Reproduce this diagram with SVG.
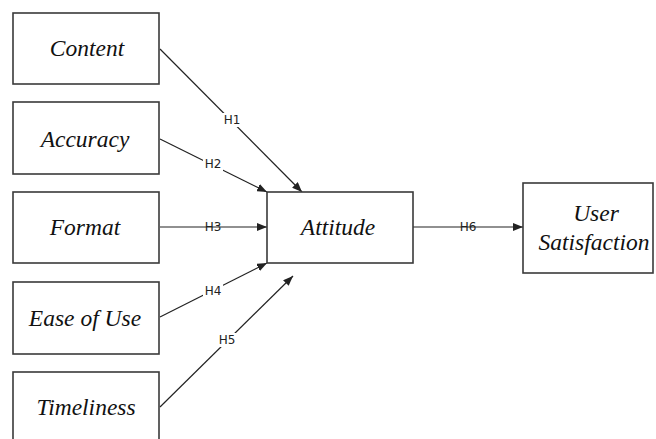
<svg xmlns="http://www.w3.org/2000/svg" width="656" height="439" viewBox="0 0 656 439">
<style>
.box{fill:#fff;stroke:#3a3a3a;stroke-width:1.6}
.t{font-family:"Liberation Serif",serif;font-style:italic;font-size:23.5px;fill:#111;text-anchor:middle;dominant-baseline:central}
.c{stroke:#222;stroke-width:1.2;fill:none;marker-end:url(#ah)}
.lb{font-family:"DejaVu Sans",sans-serif;font-size:12px;fill:#222;text-anchor:middle;dominant-baseline:central}
.lbg{fill:#fff}
</style>
<defs>
<marker id="ah" markerWidth="10" markerHeight="8" refX="10" refY="4" orient="auto" markerUnits="userSpaceOnUse">
<path d="M0,0 L10,4 L0,8 Z" fill="#222"/>
</marker>
</defs>
<rect width="656" height="439" fill="#fff"/>
<g id="connectors">
<line class="c" x1="160" y1="49" x2="302" y2="192"/>
<line class="c" x1="160" y1="139" x2="267" y2="192"/>
<line class="c" x1="160" y1="227" x2="267" y2="227"/>
<line class="c" x1="160" y1="317" x2="267" y2="263"/>
<line class="c" x1="160" y1="407" x2="293" y2="276"/>
<line class="c" x1="413" y1="227" x2="523" y2="227"/>
<rect class="lbg" x="222" y="113" width="20" height="14"/>
<text class="lb" x="232" y="120">H1</text>
<rect class="lbg" x="203" y="157" width="20" height="14"/>
<text class="lb" x="213" y="164">H2</text>
<text class="lb" x="213" y="227">H3</text>
<rect class="lbg" x="203" y="284" width="20" height="14"/>
<text class="lb" x="213" y="291">H4</text>
<rect class="lbg" x="217" y="333" width="20" height="14"/>
<text class="lb" x="227" y="340">H5</text>
<text class="lb" x="468" y="227">H6</text>
</g>
<g id="content"><rect class="box" x="13" y="13" width="146" height="71"/><text class="t" x="87" y="48">Content</text></g>
<g id="accuracy"><rect class="box" x="13" y="102" width="146" height="72"/><text class="t" x="85" y="139">Accuracy</text></g>
<g id="format"><rect class="box" x="13" y="192" width="146" height="71"/><text class="t" x="85" y="227">Format</text></g>
<g id="ease"><rect class="box" x="13" y="282" width="146" height="72"/><text class="t" x="85" y="318">Ease of Use</text></g>
<g id="timeliness"><rect class="box" x="13" y="372" width="146" height="70"/><text class="t" x="86" y="407">Timeliness</text></g>
<g id="attitude"><rect class="box" x="267" y="192" width="146" height="71"/><text class="t" x="338" y="227">Attitude</text></g>
<g id="satisfaction"><rect class="box" x="523" y="183" width="130" height="90"/><text class="t" x="596" y="213">User</text><text class="t" x="594" y="242">Satisfaction</text></g>
</svg>
